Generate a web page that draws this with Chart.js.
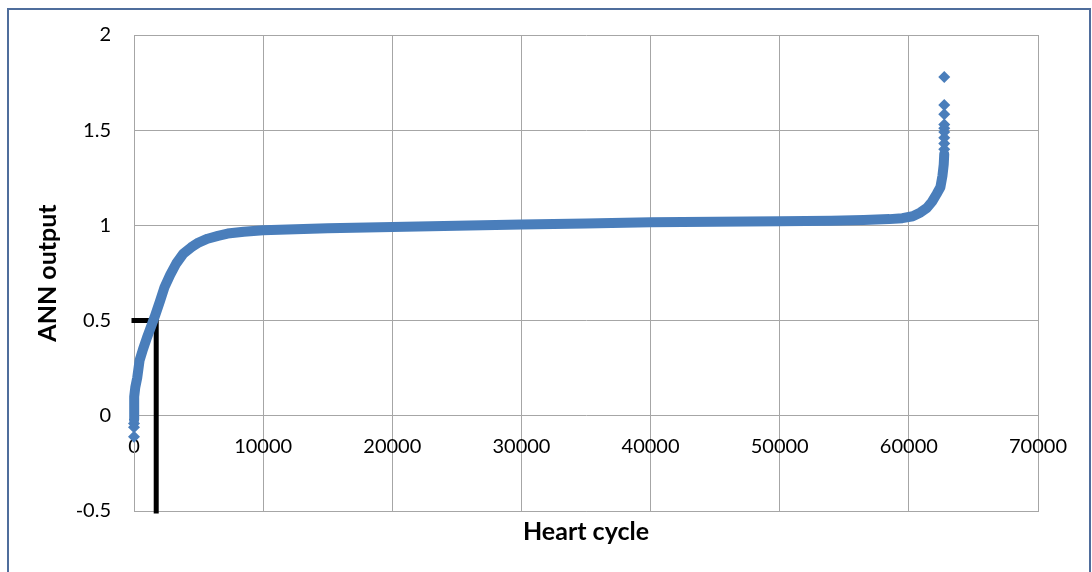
<!doctype html>
<html lang="en">
<head>
  <meta charset="utf-8" />
  <title>ANN output per heart cycle</title>
  <style>
    body { margin: 0; background: #fff; }
    .frame {
      position: absolute;
      left: 7px;
      top: 8px;
      width: 1080px;
      height: 600px;
      border: 2px solid #4f6d9c;
    }
    .chartBox {
      position: absolute;
      left: 0;
      top: 0;
      width: 1092px;
      height: 572px;
    }
  </style>
</head>
<body>
  <div class="frame"></div>
  <div class="chartBox">
    <canvas id="annChart" width="1092" height="572"></canvas>
  </div>
<script src="https://cdn.jsdelivr.net/npm/chart.js@4.4.1/dist/chart.umd.min.js"></script>
<script>
  // sorted ANN output (centre of the thick marker band)
  var curveX = [0, 0, 30, 100, 250, 430, 700, 1000, 1330, 1600, 2000, 2360, 2800, 3270, 3800, 4430,
    5000, 5700, 6500, 7250, 8500, 10000, 15000, 20000, 25000, 30000, 35000, 40000, 45000, 50000,
    54000, 56500, 58500, 59500, 60300, 60900, 61400, 61800, 62150, 62440, 62600, 62700, 62740];
  var curveY = [-0.02, 0.05, 0.1, 0.15, 0.2, 0.29, 0.35, 0.41, 0.47, 0.52, 0.6, 0.675, 0.74, 0.8, 0.85, 0.885,
    0.91, 0.93, 0.945, 0.957, 0.967, 0.975, 0.985, 0.991, 0.998, 1.005, 1.01, 1.016, 1.019, 1.022,
    1.025, 1.028, 1.033, 1.038, 1.048, 1.068, 1.092, 1.125, 1.165, 1.2, 1.26, 1.32, 1.375];

  // single diamonds that stand apart at both ends
  var outlierX = [0, 0, 0, 62740, 62740, 62740, 62740, 62740, 62740, 62740, 62740, 62740];
  var outlierY = [-0.06, -0.11, -0.04, 1.4, 1.43, 1.46, 1.49, 1.51, 1.53, 1.584, 1.633, 1.78];

  // black threshold marker at output 0.5
  var markX = [0, 1720, 1720];
  var markY = [0.5, 0.5, -0.5];

  var xTicks = [0, 10000, 20000, 30000, 40000, 50000, 60000, 70000];
  var yTicks = [-0.5, 0, 0.5, 1, 1.5, 2];

  function pairs(xs, ys) {
    return xs.map(function(x, i) { return {x: x, y: ys[i]}; });
  }
  function plain(v) { return String(v); }

  var blue = '#4a7ebb';
  var gridColor = '#a6a6a6';
  var tickFont = {family: 'Lato', size: 20};
  var titleFont = {family: 'Lato', size: 25, weight: 'bold'};

  var ctx = document.getElementById('annChart').getContext('2d');
  var chart = new Chart(ctx, {
    type: 'scatter',
    data: {
      datasets: [{
        data: pairs(curveX, curveY),
        showLine: true,
        borderColor: blue,
        backgroundColor: blue,
        borderWidth: 10,
        borderJoinStyle: 'round',
        borderCapStyle: 'round',
        pointRadius: 0,
        tension: 0,
        clip: false
      }, {
        data: pairs(outlierX, outlierY),
        showLine: false,
        pointStyle: 'rectRot',
        pointRadius: 6,
        borderWidth: 0,
        backgroundColor: blue,
        borderColor: blue,
        clip: false
      }, {
        data: pairs(markX, markY),
        showLine: true,
        borderColor: '#000',
        borderWidth: 5,
        borderCapStyle: 'square',
        borderJoinStyle: 'miter',
        pointRadius: 0,
        tension: 0,
        clip: false
      }]
    },
    options: {
      responsive: false,
      animation: false,
      events: [],
      layout: {padding: {left: 0, top: 34, right: 54, bottom: 0}},
      plugins: {legend: {display: false}, tooltip: {enabled: false}},
      scales: {
        x: {
          type: 'linear',
          position: 'bottom',
          min: 0,
          max: 70000,
          afterBuildTicks: function(s) { s.ticks = xTicks.map(function(v) { return {value: v}; }); },
          ticks: {display: false},
          grid: {color: gridColor, drawTicks: false},
          border: {color: gridColor},
          title: {display: true, text: 'Heart cycle', color: '#000', font: titleFont, padding: {top: 0, bottom: 25}},
          afterFit: function(s) { s.height = 61; }
        },
        xAxis0: {
          type: 'linear',
          position: {y: 0},
          min: 0,
          max: 70000,
          afterBuildTicks: function(s) { s.ticks = xTicks.map(function(v) { return {value: v}; }); },
          ticks: {color: '#000', font: tickFont, padding: 19, maxRotation: 0, autoSkip: false, callback: plain},
          grid: {display: false, drawTicks: false},
          border: {display: false}
        },
        y: {
          type: 'linear',
          position: 'left',
          min: -0.5,
          max: 2,
          afterBuildTicks: function(s) { s.ticks = yTicks.map(function(v) { return {value: v}; }); },
          ticks: {color: '#000', font: tickFont, padding: 23, callback: plain},
          grid: {color: gridColor, drawTicks: false},
          border: {color: gridColor},
          title: {display: true, text: 'ANN output', color: '#000', font: titleFont, padding: {top: 33, bottom: 0}},
          afterFit: function(s) { s.width = 134; }
        }
      }
    }
  });
</script>
</body>
</html>
